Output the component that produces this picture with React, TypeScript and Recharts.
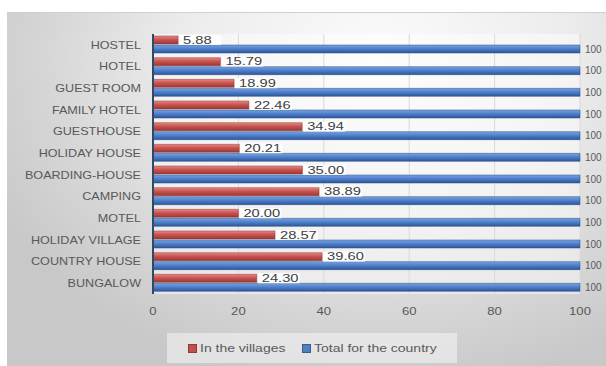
import React from 'react';
import { BarChart, Bar, XAxis, YAxis, CartesianGrid, Legend, LabelList } from 'recharts';

const categories = [
  'HOSTEL', 'HOTEL', 'GUEST ROOM', 'FAMILY HOTEL', 'GUESTHOUSE', 'HOLIDAY HOUSE',
  'BOARDING-HOUSE', 'CAMPING', 'MOTEL', 'HOLIDAY VILLAGE', 'COUNTRY HOUSE', 'BUNGALOW',
];
const inVillages = [5.88, 15.79, 18.99, 22.46, 34.94, 20.21, 35.0, 38.89, 20.0, 28.57, 39.6, 24.3];
const totalCountry = [100, 100, 100, 100, 100, 100, 100, 100, 100, 100, 100, 100];
const xTicks = [0, 20, 40, 60, 80, 100];
const seriesNames = ['In the villages', 'Total for the country'];
const seriesColors = ['#c0504d', '#4f81bd'];

const data = categories.map((c, i) => ({ name: c, villages: inVillages[i], total: totalCountry[i] }));

const FONT = '"Liberation Sans", Arial, sans-serif';
const TEXT = '#595959';

const YTick = (props: any) => {
  const { x, y, payload } = props;
  return (
    <text
      transform={`translate(${x},${y}) scale(1.2,1)`}
      textAnchor="end"
      dy="0.36em"
      fontSize={10.5}
      fontFamily={FONT}
      fill={TEXT}
    >
      {payload.value}
    </text>
  );
};

const XTick = (props: any) => {
  const { x, y, payload } = props;
  return (
    <text
      transform={`translate(${x},${y}) scale(1.25,1)`}
      textAnchor="middle"
      dy="0.71em"
      fontSize={10.5}
      fontFamily={FONT}
      fill={TEXT}
    >
      {payload.value}
    </text>
  );
};

const VillageLabel = (props: any) => {
  const { x, y, width, height, value } = props;
  const lx = Number(x) + Number(width);
  const cy = Number(y) + Number(height) / 2;
  return (
    <g>
      <rect x={lx + 1} y={Number(y) - 1} width={42} height={Number(height) + 2} fill="#ffffff" fillOpacity={0.85} />
      <text
        transform={`translate(${lx + 5},${cy}) scale(1.4,1)`}
        dy="0.36em"
        fontSize={10.5}
        fontFamily={FONT}
        fill="#404040"
      >
        {Number(value).toFixed(2)}
      </text>
    </g>
  );
};

const TotalLabel = (props: any) => {
  const { x, y, width, height, value } = props;
  const lx = Number(x) + Number(width);
  const cy = Number(y) + Number(height) / 2;
  return (
    <text
      x={lx + 5}
      y={cy}
      dy="0.36em"
      fontSize={10}
      fontFamily={FONT}
      fill={TEXT}
    >
      {value}
    </text>
  );
};

const LegendContent = () => (
  <div
    style={{
      width: 290,
      height: 30,
      background: 'rgba(245,245,245,0.55)',
      display: 'flex',
      alignItems: 'center',
      fontFamily: FONT,
      fontSize: 10.5,
      color: TEXT,
      boxSizing: 'border-box',
      paddingLeft: 21,
    }}
  >
    {seriesNames.map((n, i) => (
      <div key={n} style={{ display: 'flex', alignItems: 'center', marginRight: i === 0 ? 18 : 0 }}>
        <span
          style={{
            display: 'inline-block',
            width: 9,
            height: 9,
            background: seriesColors[i],
            border: `1px solid ${i === 0 ? '#8e3a38' : '#385d8a'}`,
            boxSizing: 'border-box',
            marginRight: 3,
          }}
        />
        <span style={{ display: 'inline-block', transform: 'scaleX(1.33)', transformOrigin: 'left center', width: i === 0 ? 84 : 126, whiteSpace: 'nowrap' }}>
          {n}
        </span>
      </div>
    ))}
  </div>
);

export default function App() {
  return (
    <div style={{ position: 'absolute', left: 0, top: 0, width: 606, height: 366, background: '#ffffff', overflow: 'hidden' }}>
      <div
        style={{
          position: 'absolute',
          left: 7,
          top: 12,
          width: 599,
          height: 354,
          background: 'radial-gradient(ellipse 72% 95% at 62% 12%, #fbfbfb 0%, #ececec 45%, #d4d4d4 80%, #c8c8c8 100%)',
          borderTop: '1px solid #cfcfcf',
        }}
      />
      <div style={{ position: 'absolute', left: 0, top: 0 }}>
        <BarChart
          width={606}
          height={366}
          layout="vertical"
          data={data}
          margin={{ top: 34, right: 26, left: 0, bottom: 12 }}
          barSize={8}
          barGap={1}
        >
          <defs>
            <linearGradient id="gRed" x1="0" y1="0" x2="0" y2="1">
              <stop offset="0%" stopColor="#e58a86" />
              <stop offset="45%" stopColor="#c9534f" />
              <stop offset="100%" stopColor="#9a3835" />
            </linearGradient>
            <linearGradient id="gBlue" x1="0" y1="0" x2="0" y2="1">
              <stop offset="0%" stopColor="#7aa3e0" />
              <stop offset="45%" stopColor="#4f81cd" />
              <stop offset="100%" stopColor="#2e5597" />
            </linearGradient>
          </defs>
          <CartesianGrid horizontal={false} stroke="#d9d9d9" fill="#ffffff" fillOpacity={0.45} />
          <XAxis
            type="number"
            domain={[0, 100]}
            ticks={xTicks}
            axisLine={false}
            tickLine={false}
            tickSize={0}
            tickMargin={14}
            height={30}
            tick={<XTick />}
            interval={0}
          />
          <YAxis
            type="category"
            dataKey="name"
            width={153}
            axisLine={{ stroke: '#2f4b63', strokeWidth: 2 }}
            tickLine={false}
            tickSize={0}
            tickMargin={12}
            tick={<YTick />}
            interval={0}
          />
          <Legend
            content={<LegendContent />}
            wrapperStyle={{ position: 'absolute', left: 167, top: 333, width: 290, height: 30 }}
          />
          <Bar dataKey="villages" name={seriesNames[0]} fill="url(#gRed)" stroke="#8e3a38" strokeWidth={0.5} isAnimationActive={false}>
            <LabelList dataKey="villages" content={<VillageLabel />} />
          </Bar>
          <Bar dataKey="total" name={seriesNames[1]} fill="url(#gBlue)" stroke="#2b4f85" strokeWidth={0.5} isAnimationActive={false}>
            <LabelList dataKey="total" content={<TotalLabel />} />
          </Bar>
        </BarChart>
      </div>
    </div>
  );
}
